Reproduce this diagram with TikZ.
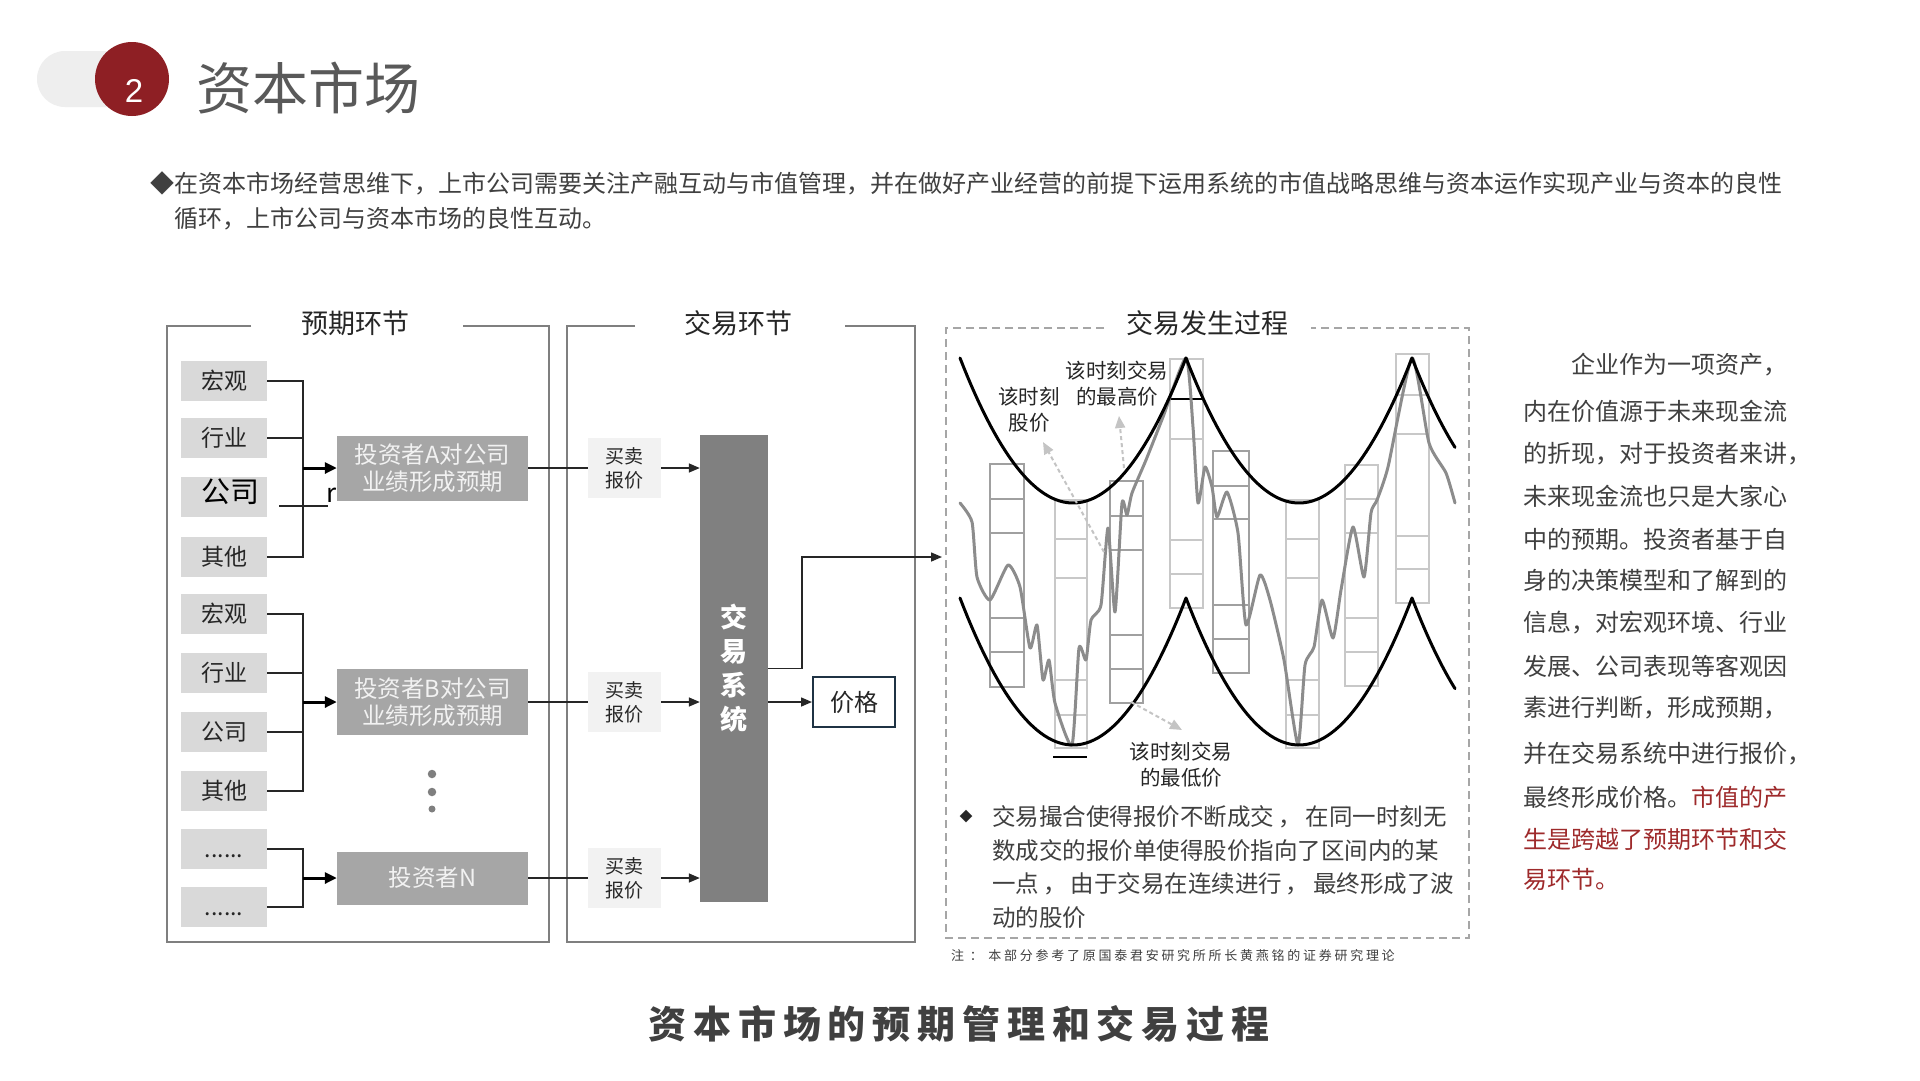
\documentclass[tikz,border=0pt]{standalone}
\usepackage{fontspec}
\setmainfont{Noto Sans CJK SC}
\newfontfamily\spacedfont[LetterSpace=18]{Noto Sans CJK SC}
\newfontfamily\notefont[LetterSpace=21]{Noto Sans CJK SC}
\newfontfamily\digitfont{Liberation Sans}
\usetikzlibrary{arrows.meta}
\definecolor{cred}{HTML}{8E1F24}
\definecolor{cpill}{HTML}{EEEEEE}
\definecolor{ctitle}{HTML}{595959}
\definecolor{ctext}{HTML}{404040}
\definecolor{cdark}{HTML}{262626}
\definecolor{cframe}{HTML}{7F7F7F}
\definecolor{cdash}{HTML}{A6A6A6}
\definecolor{cfactor}{HTML}{D9D9D9}
\definecolor{cinv}{HTML}{A6A6A6}
\definecolor{cinvtext}{HTML}{F2F2F2}
\definecolor{cquote}{HTML}{F2F2F2}
\definecolor{csys}{HTML}{808080}
\definecolor{cnavy}{HTML}{1F3344}
\definecolor{cboxd}{HTML}{A0A0A0}
\definecolor{cboxl}{HTML}{C8C8C8}
\definecolor{cprice}{HTML}{8C8C8C}
\definecolor{cdarr}{HTML}{C4C4C4}
\definecolor{cmark}{HTML}{9E2A2B}
\definecolor{cdot}{HTML}{7F7F7F}
\newcommand\fsz[2]{\fontsize{#1pt}{#2pt}\selectfont}
\begin{document}
\begin{tikzpicture}[x=1pt,y=-1pt,
  frame/.style={draw=cframe, line width=2pt},
  dframe/.style={draw=cdash, line width=2pt, dash pattern=on 8pt off 5pt},
  sectitle/.style={font=\fsz{27}{30}, text=cdark, inner sep=0pt},
  intro/.style={anchor=west, inner sep=0pt, font=\fsz{24}{28}, text=ctext},
  factor/.style={fill=cfactor, minimum width=86pt, minimum height=40pt, inner sep=0pt, font=\fsz{23}{26}, text=cdark},
  conn/.style={draw=cdark, line width=1.5pt},
  arr/.style={conn, -{Triangle[length=11pt,width=9pt]}},
  arrthick/.style={draw=black, line width=3pt, -{Triangle[length=12pt,width=11pt]}},
  invest/.style={fill=cinv, minimum width=191pt, inner sep=0pt, align=center, font=\fsz{23.5}{27}, text=cinvtext},
  quote/.style={fill=cquote, minimum width=73pt, minimum height=60pt, inner sep=0pt, align=center, font=\fsz{19}{24}, text=cdark},
  sys/.style={fill=csys, minimum width=68pt, minimum height=467pt, inner sep=0pt, align=center, text=white, font=\bfseries\fsz{27}{34}},
  pricebox/.style={draw=cnavy, line width=2pt, fill=white, minimum width=82pt, minimum height=50pt, inner sep=0pt, font=\fsz{24}{28}, text=cdark},
  dotn/.style={circle, fill=cdot, inner sep=0pt, minimum size=#1},
  clabel/.style={align=center, inner sep=0pt, font=\fsz{20.5}{26}, text=cdark},
  bline/.style={anchor=west, inner sep=0pt, font=\fsz{23.5}{28}, text=ctext},
  rline/.style={anchor=west, inner sep=0pt, font=\fsz{24}{28}, text=ctext},
  curve/.style={draw=black, line width=3pt, line cap=round, line join=round},
  pline/.style={draw=cprice, line width=3pt, line cap=round, line join=round},
  darr/.style={draw=cdarr, line width=2pt, dash pattern=on 4pt off 3pt, -{Triangle[length=12pt,width=10pt,fill=cdarr]}},
  candled/.style={draw=cboxd, line width=2pt},
  candlel/.style={draw=cboxl, line width=2pt}
]
\useasboundingbox (0,0) rectangle (1920,1080);
\fill[white] (0,0) rectangle (1920,1080);

% ---------- header ----------
\fill[cpill, rounded corners=28pt] (37,51) rectangle (140,107);
\node[circle, fill=cred, minimum size=74pt, inner sep=0pt] (badge) at (132,79) {};
\node[text=white, font=\digitfont\fsz{33}{33}, inner sep=0pt] (badgenum) at (134,91) {2};
\node[anchor=west, text=ctitle, font=\fsz{56}{60}, inner sep=0pt] (title) at (196,88) {资本市场};

\node[intro] (intro1) at (150,183) {◆在资本市场经营思维下，上市公司需要关注产融互动与市值管理，并在做好产业经营的前提下运用系统的市值战略思维与资本运作实现产业与资本的良性};
\node[intro] (intro2) at (174,219) {循环，上市公司与资本市场的良性互动。};

% ---------- frames ----------
\draw[frame] (251,326) -- (167,326) -- (167,942) -- (549,942) -- (549,326) -- (463,326);
\node[sectitle] (sec1) at (355,323) {预期环节};
\draw[frame] (635,326) -- (567,326) -- (567,942) -- (915,942) -- (915,326) -- (845,326);
\node[sectitle] (sec2) at (738,323) {交易环节};
\draw[dframe] (1104,328) -- (946,328) -- (946,938) -- (1469,938) -- (1469,328) -- (1311,328);
\node[sectitle] (sec3) at (1207,323) {交易发生过程};

% ---------- factors ----------
\node[factor] (f11) at (224,381) {宏观};
\node[factor] (f12) at (224,438) {行业};
\node[factor] (f13) at (224,497) {};
\node[text=black, inner sep=0pt, font=\fsz{29}{30}] (f13t) at (230,492) {公司};
\node[factor] (f14) at (224,557) {其他};
\node[factor] (f21) at (224,614) {宏观};
\node[factor] (f22) at (224,673) {行业};
\node[factor] (f23) at (224,732) {公司};
\node[factor] (f24) at (224,791) {其他};
\node[factor] (f31) at (224,849) {\vphantom{宏}......};
\node[factor] (f32) at (224,907) {\vphantom{宏}......};

% ---------- investors ----------
\node[invest, minimum height=65pt] (invA) at (432.5,468) {投资者A对公司\\业绩形成预期};
\node[invest, minimum height=66pt] (invB) at (432.5,702) {投资者B对公司\\业绩形成预期};
\node[invest, minimum height=53pt] (invN) at (432.5,878) {投资者N};
\node[dotn=8.5pt] (d1) at (432,774) {};
\node[dotn=8.5pt] (d2) at (432,792) {};
\node[dotn=7pt] (d3) at (432,809) {};

\coordinate (j1) at (303,468);
\coordinate (j2) at (303,702);
\coordinate (j3) at (303,878);
\draw[conn] (f11.east) -| (j1);
\draw[conn] (f12.east) -| (j1);
\draw[conn] (f14.east) -| (j1);
\draw[arrthick] (j1) -- (j1 -| invA.west);
\coordinate (r1) at (279,506);
\coordinate (r2) at (328,506);
\draw[conn] (r1) -- (r2);
\node[inner sep=0pt, text=black, font=\fsz{26}{26}] (rmark) at (332,495) {r};

\draw[conn] (f21.east) -| (j2);
\draw[conn] (f22.east) -| (j2);
\draw[conn] (f23.east) -| (j2);
\draw[conn] (f24.east) -| (j2);
\draw[arrthick] (j2) -- (j2 -| invB.west);

\draw[conn] (f31.east) -| (j3);
\draw[conn] (f32.east) -| (j3);
\draw[arrthick] (j3) -- (j3 -| invN.west);

% ---------- trading ----------
\node[quote] (q1) at (624.5,468) {买卖\\报价};
\node[quote] (q2) at (624.5,702) {买卖\\报价};
\node[quote] (q3) at (624.5,878) {买卖\\报价};
\node[sys] (sys) at (734,668.5) {交\\易\\系\\统};
\node[pricebox] (price) at (854,702) {价格};

\draw[conn] (invA.east) -- (q1.west);
\draw[conn] (invB.east) -- (q2.west);
\draw[conn] (invN.east) -- (q3.west);
\draw[arr] (q1.east) -- (q1.east -| sys.west);
\draw[arr] (q2.east) -- (q2.east -| sys.west);
\draw[arr] (q3.east) -- (q3.east -| sys.west);
\draw[arr] (sys.east |- price.west) -- (price.west);
\coordinate (chartin) at (942,557);
\draw[arr] (sys.east) -- ++(34,0) |- (chartin);

% ---------- chart: candles ----------
\foreach \xa/\xb/\ya/\yb/\dl in {990/1024/464/687/{499,533,618,652},
    1110/1143/481/703/{516,550,635,669},
    1213/1249/451/673/{486,519,605,639}}{
  \draw[candled] (\xa,\ya) rectangle (\xb,\yb);
  \foreach \d in \dl {\draw[candled] (\xa,\d) -- (\xb,\d);}
}
\foreach \xa/\xb/\ya/\yb/\dl in {1055/1087/500/748/{539,578,680,715},
    1170/1203/359/608/{439,540,574},
    1286/1319/500/748/{539,578,680,715},
    1345/1378/465/686/{499,533,618,652},
    1396/1429/354/603/{395,434,536,569}}{
  \draw[candlel] (\xa,\ya) rectangle (\xb,\yb);
  \foreach \d in \dl {\draw[candlel] (\xa,\d) -- (\xb,\d);}
}
\draw[black, line width=1.5pt] (1170,399) -- (1203,399);
\draw[black, line width=1.5pt] (1053,757) -- (1087,757);

% ---------- chart: price line ----------
\draw[pline] plot[smooth, tension=0.35] coordinates {
(960,503) (972,522) (977,577) (990,600) (1008,565) (1020,587) (1030,648) (1037,625)
(1043,680) (1049,660) (1055,703) (1072,745) (1079,648) (1086,660) (1091,620) (1101,605)
(1108,528) (1115,612) (1122,503) (1127,515) (1132,493) (1146,460) (1163,417) (1186,358)
(1193,427) (1198,503) (1205,467) (1212,487) (1217,517) (1227,492) (1238,533) (1246,625)
(1260,575) (1270,600) (1284,660) (1298,745) (1305,665) (1314,647) (1322,600) (1333,638)
(1341,590) (1353,527) (1364,577) (1371,513) (1377,500) (1388,467) (1412,358) (1429,443)
(1446,473) (1455,503)};

% ---------- chart: envelopes ----------
\draw[curve] plot[domain=960:1186, samples=60] (\x,{503-145*((\x-1073)/113)^2});
\draw[curve] plot[domain=1186:1412, samples=60] (\x,{503-145*((\x-1299)/113)^2});
\draw[curve] plot[domain=1412:1455, samples=20] (\x,{503-145*((\x-1525)/113)^2});
\draw[curve] plot[domain=960:1186, samples=60] (\x,{745-147*((\x-1073)/113)^2});
\draw[curve] plot[domain=1186:1412, samples=60] (\x,{745-147*((\x-1299)/113)^2});
\draw[curve] plot[domain=1412:1455, samples=20] (\x,{745-147*((\x-1525)/113)^2});

% ---------- chart labels ----------
\node[clabel] (lblHigh) at (1117,384) {该时刻交易\\的最高价};
\node[clabel] (lblPrice) at (1029,410) {该时刻\\股价};
\node[clabel] (lblLow) at (1181,765) {该时刻交易\\的最低价};
\coordinate (pA) at (1104,552);
\coordinate (tA) at (1043,442);
\coordinate (pB) at (1124,468);
\coordinate (tB) at (1119,416);
\coordinate (pC) at (1131,702);
\coordinate (tC) at (1182,730);
\draw[darr] (pA) -- (tA);
\draw[darr] (pB) -- (tB);
\draw[darr] (pC) -- (tC);

% ---------- bullet text ----------
\node[inner sep=0pt, font=\fsz{13}{14}, text=cdark] (bul) at (966,817) {◆};
\node[bline] (b1) at (992,817) {交易撮合使得报价不断成交\,，\,在同一时刻无};
\node[bline] (b2) at (992,851) {数成交的报价单使得股价指向了区间内的某};
\node[bline] (b3) at (992,884) {一点\,，\,由于交易在连续进行\,，\,最终形成了波};
\node[bline] (b4) at (992,918) {动的股价};
\node[anchor=west, inner sep=0pt, text=ctext, font=\notefont\fsz{13}{15}] (note) at (951,956) {注 ： 本部分参考了原国泰君安研究所所长黄燕铭的证券研究理论};

% ---------- right text ----------
\node[rline] (t1) at (1571,365) {企业作为一项资产，};
\node[rline] (t2) at (1523,411) {内在价值源于未来现金流};
\node[rline] (t3) at (1523,454) {的折现，对于投资者来讲，};
\node[rline] (t4) at (1523,496) {未来现金流也只是大家心};
\node[rline] (t5) at (1523,539) {中的预期。投资者基于自};
\node[rline] (t6) at (1523,580) {身的决策模型和了解到的};
\node[rline] (t7) at (1523,623) {信息，对宏观环境、行业};
\node[rline] (t8) at (1523,666) {发展、公司表现等客观因};
\node[rline] (t9) at (1523,708) {素进行判断，形成预期，};
\node[rline] (t10) at (1523,754) {并在交易系统中进行报价，};
\node[rline] (t11) at (1523,797) {最终形成价格。{\color{cmark}市值的产}};
\node[rline, text=cmark] (t12) at (1523,839) {生是跨越了预期环节和交};
\node[rline, text=cmark] (t13) at (1523,879) {易环节。};

% ---------- bottom title ----------
\node[inner sep=0pt, text=ctext, font=\spacedfont\bfseries\fsz{38}{40}] (bottom) at (959,1024) {资本市场的预期管理和交易过程};
\end{tikzpicture}
\end{document}
